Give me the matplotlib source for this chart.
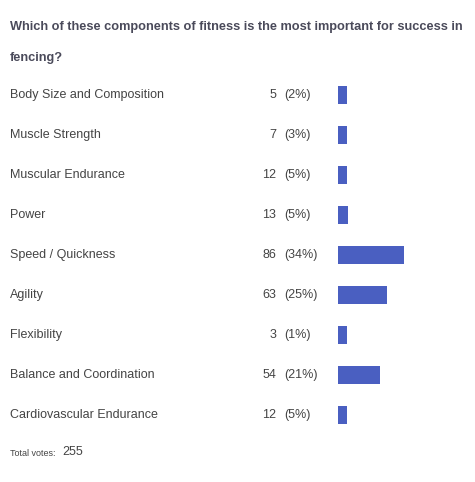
import matplotlib
matplotlib.use("Agg")
import matplotlib.pyplot as plt

# ── Data ──────────────────────────────────────────────────────────────────────
title_lines = ["Which of these components of fitness is the most important for success in",
               "fencing?"]
options = ["Body Size and Composition", "Muscle Strength", "Muscular Endurance", "Power",
           "Speed / Quickness", "Agility", "Flexibility", "Balance and Coordination",
           "Cardiovascular Endurance"]
votes   = [5, 7, 12, 13, 86, 63, 3, 54, 12]
percent = [2, 3, 5, 5, 34, 25, 1, 21, 5]
total   = 255

W, H = 475, 482
fig = plt.figure(figsize=(W / 100, H / 100), dpi=100)
fig.patch.set_facecolor("white")
plt.rcParams["font.family"] = ["Liberation Sans", "DejaVu Sans"]

def px(x, y):
    return x / W, 1 - y / H

txt = "#444444"
fig.text(*px(10, 27), title_lines[0], fontsize=9.2, fontweight="bold", color="#4a4a5a", va="center")
fig.text(*px(10, 58), title_lines[1], fontsize=9.2, fontweight="bold", color="#4a4a5a", va="center")

row0, step = 95, 40
for i, (lab, v, p) in enumerate(zip(options, votes, percent)):
    y = row0 + i * step
    fig.text(*px(10, y), lab, fontsize=9, color=txt, va="center")
    fig.text(*px(276, y), str(v), fontsize=9, color=txt, va="center", ha="right")
    fig.text(*px(284, y), f"({p}%)", fontsize=9, color=txt, va="center")

# bars in their own axes, aligned to the rows
x0 = 338
top, bot = row0 - step / 2, row0 + step * (len(options) - 0.5)
ax = fig.add_axes([x0 / W, 1 - bot / H, (W - x0) / W, (bot - top) / H])
scale = 0.77  # px per vote
widths = [max(v, 11.5) for v in votes]
ax.barh(range(len(options)), widths, height=0.45, color="#4a5fc1", left=0)
ax.set_xlim(0, (W - x0) / scale)
ax.set_ylim(len(options) - 0.5, -0.5)
ax.axis("off")

fig.text(*px(10, 453), "Total votes:", fontsize=6.5, color=txt, va="center")
fig.text(*px(62, 452), str(total), fontsize=9, color=txt, va="center")

plt.savefig("out.png", dpi=100)
